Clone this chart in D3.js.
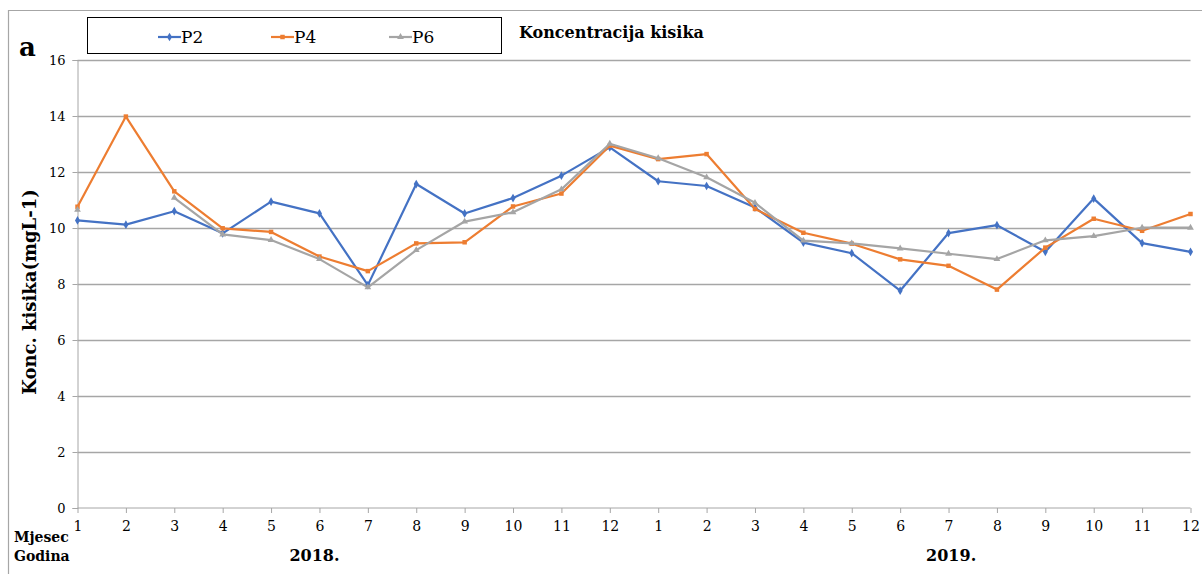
<!DOCTYPE html>
<html>
<head>
<meta charset="utf-8">
<script src="https://cdn.jsdelivr.net/npm/d3@7"></script>
<style>
    body { margin: 0; background: #fff; }
    .axis path, .axis line { stroke: #a6a6a6; }
    .grid line { stroke: #a6a6a6; stroke-width: 1.3; }
    .grid path { display: none; }
</style>
</head>
<body>
<div id="chart"></div>
<script>
// months, 2018 then 2019
const months = [1, 2, 3, 4, 5, 6, 7, 8, 9, 10, 11, 12, 1, 2, 3, 4, 5, 6, 7, 8, 9, 10, 11, 12];
const yearLabels = ['2018.', '2019.'];
const yTicks = [0, 2, 4, 6, 8, 10, 12, 14, 16];

const p2 = [10.27, 10.12, 10.6, 9.81, 10.94, 10.52, 7.96, 11.57, 10.52, 11.07, 11.87, 12.88,
    11.67, 11.5, 10.73, 9.48, 9.1, 7.76, 9.82, 10.1, 9.15, 11.05, 9.46, 9.15];
const p4 = [10.76, 13.98, 11.31, 9.99, 9.86, 8.98, 8.46, 9.45, 9.49, 10.77, 11.23, 12.94,
    12.46, 12.64, 10.68, 9.83, 9.44, 8.88, 8.65, 7.8, 9.3, 10.33, 9.9, 10.5];
const p6 = [10.65, null, 11.08, 9.77, 9.57, 8.89, 7.88, 9.21, 10.23, 10.56, 11.38, 13.01,
    12.49, 11.81, 10.9, 9.55, 9.45, 9.27, 9.08, 8.89, 9.56, 9.71, 10.01, 10.01];

const series = [
    { name: 'P2', values: p2, color: '#4472c4', symbol: d3.symbolDiamond, size: 22 },
    { name: 'P4', values: p4, color: '#ed7d31', symbol: d3.symbolSquare, size: 20 },
    { name: 'P6', values: p6, color: '#a5a5a5', symbol: d3.symbolTriangle, size: 20 },
];

const FONT = "'DejaVu Serif', 'Liberation Serif', serif";
const W = 1202, H = 574;
const plot = { left: 77.5, right: 1190.5, top: 60, bottom: 508 };

const svg = d3.select('#chart').append('svg')
    .attr('width', W)
    .attr('height', H);

// outer chart border (only top and left visible)
svg.append('path')
    .attr('d', 'M8.5,' + H + 'V10.5H' + W)
    .attr('fill', 'none')
    .attr('stroke', '#a6a6a6')
    .attr('stroke-width', 1.2);

const idx = d3.range(months.length);
const x = d3.scalePoint().domain(idx).range([plot.left, plot.right]);
const y = d3.scaleLinear().domain([0, 16]).range([plot.bottom, plot.top]);

// gridlines
svg.append('g')
    .attr('class', 'grid')
    .attr('transform', 'translate(' + plot.left + ',0)')
    .call(d3.axisLeft(y).tickValues(yTicks.slice(1)).tickSize(-(plot.right - plot.left)).tickFormat(''));

// y axis
const yAxis = svg.append('g')
    .attr('class', 'axis')
    .attr('transform', 'translate(' + plot.left + ',0)')
    .call(d3.axisLeft(y).tickValues(yTicks).tickSize(5).tickPadding(7));
yAxis.attr('font-family', FONT);
yAxis.selectAll('text').attr('fill', '#000').style('font-family', FONT).style('font-size', '13px');

// x axis
const xAxis = svg.append('g')
    .attr('class', 'axis')
    .attr('transform', 'translate(0,' + plot.bottom + ')')
    .call(d3.axisBottom(x).tickSize(5).tickPadding(8).tickFormat((i) => months[i]));
xAxis.attr('font-family', FONT);
xAxis.selectAll('path').attr('d', 'M' + plot.left + ',0H' + plot.right);
xAxis.selectAll('text').attr('fill', '#000').style('font-family', FONT).style('font-size', '14px');

// lines and markers
const line = d3.line()
    .defined((d) => d != null)
    .x((d, i) => x(i))
    .y((d) => y(d));

series.forEach((s) => {
    svg.append('path')
        .datum(s.values)
        .attr('fill', 'none')
        .attr('stroke', s.color)
        .attr('stroke-width', 2.2)
        .attr('stroke-linejoin', 'round')
        .attr('d', line);

    svg.append('g').selectAll('path')
        .data(s.values.map((v, i) => ({ v, i })).filter((d) => d.v != null))
        .enter()
        .append('path')
        .attr('d', d3.symbol().type(s.symbol).size(s.size))
        .attr('fill', s.color)
        .attr('transform', (d) => 'translate(' + x(d.i) + ',' + y(d.v) + ')');
});

function label(px, py, txt, size, bold) {
    return svg.append('text')
        .attr('x', px).attr('y', py)
        .style('font-family', FONT)
        .style('font-size', size + 'px')
        .style('font-weight', bold ? 'bold' : 'normal')
        .attr('fill', '#000')
        .text(txt);
}

// legend
svg.append('rect')
    .attr('x', 87.5).attr('y', 17.5)
    .attr('width', 414).attr('height', 36)
    .attr('fill', '#fff')
    .attr('stroke', '#000')
    .attr('stroke-width', 1);

const legendX = [158, 271, 389];
series.forEach((s, i) => {
    const g = svg.append('g').attr('transform', 'translate(' + legendX[i] + ',37)');
    g.append('line')
        .attr('x1', 0).attr('x2', 23)
        .attr('stroke', s.color)
        .attr('stroke-width', 2.2);
    g.append('path')
        .attr('d', d3.symbol().type(s.symbol).size(s.size))
        .attr('fill', s.color)
        .attr('transform', 'translate(11.5,0)');
    label(legendX[i] + 23, 43, s.name, 17, false);
});

label(519, 38, 'Koncentracija kisika', 16, true);
label(19, 56, 'a', 26, true);

label(0, 0, 'Konc. kisika(mgL-1)', 18, true)
    .attr('transform', 'translate(36,292) rotate(-90)')
    .attr('text-anchor', 'middle');

label(14, 542, 'Mjesec', 14, true);
label(14, 561, 'Godina', 14, true);

const yearX = [x(5) - 5, x(17) + 51];
yearLabels.forEach((t, i) => {
    label(yearX[i], 561, t, 16, true).attr('text-anchor', 'middle');
});
</script>
</body>
</html>
